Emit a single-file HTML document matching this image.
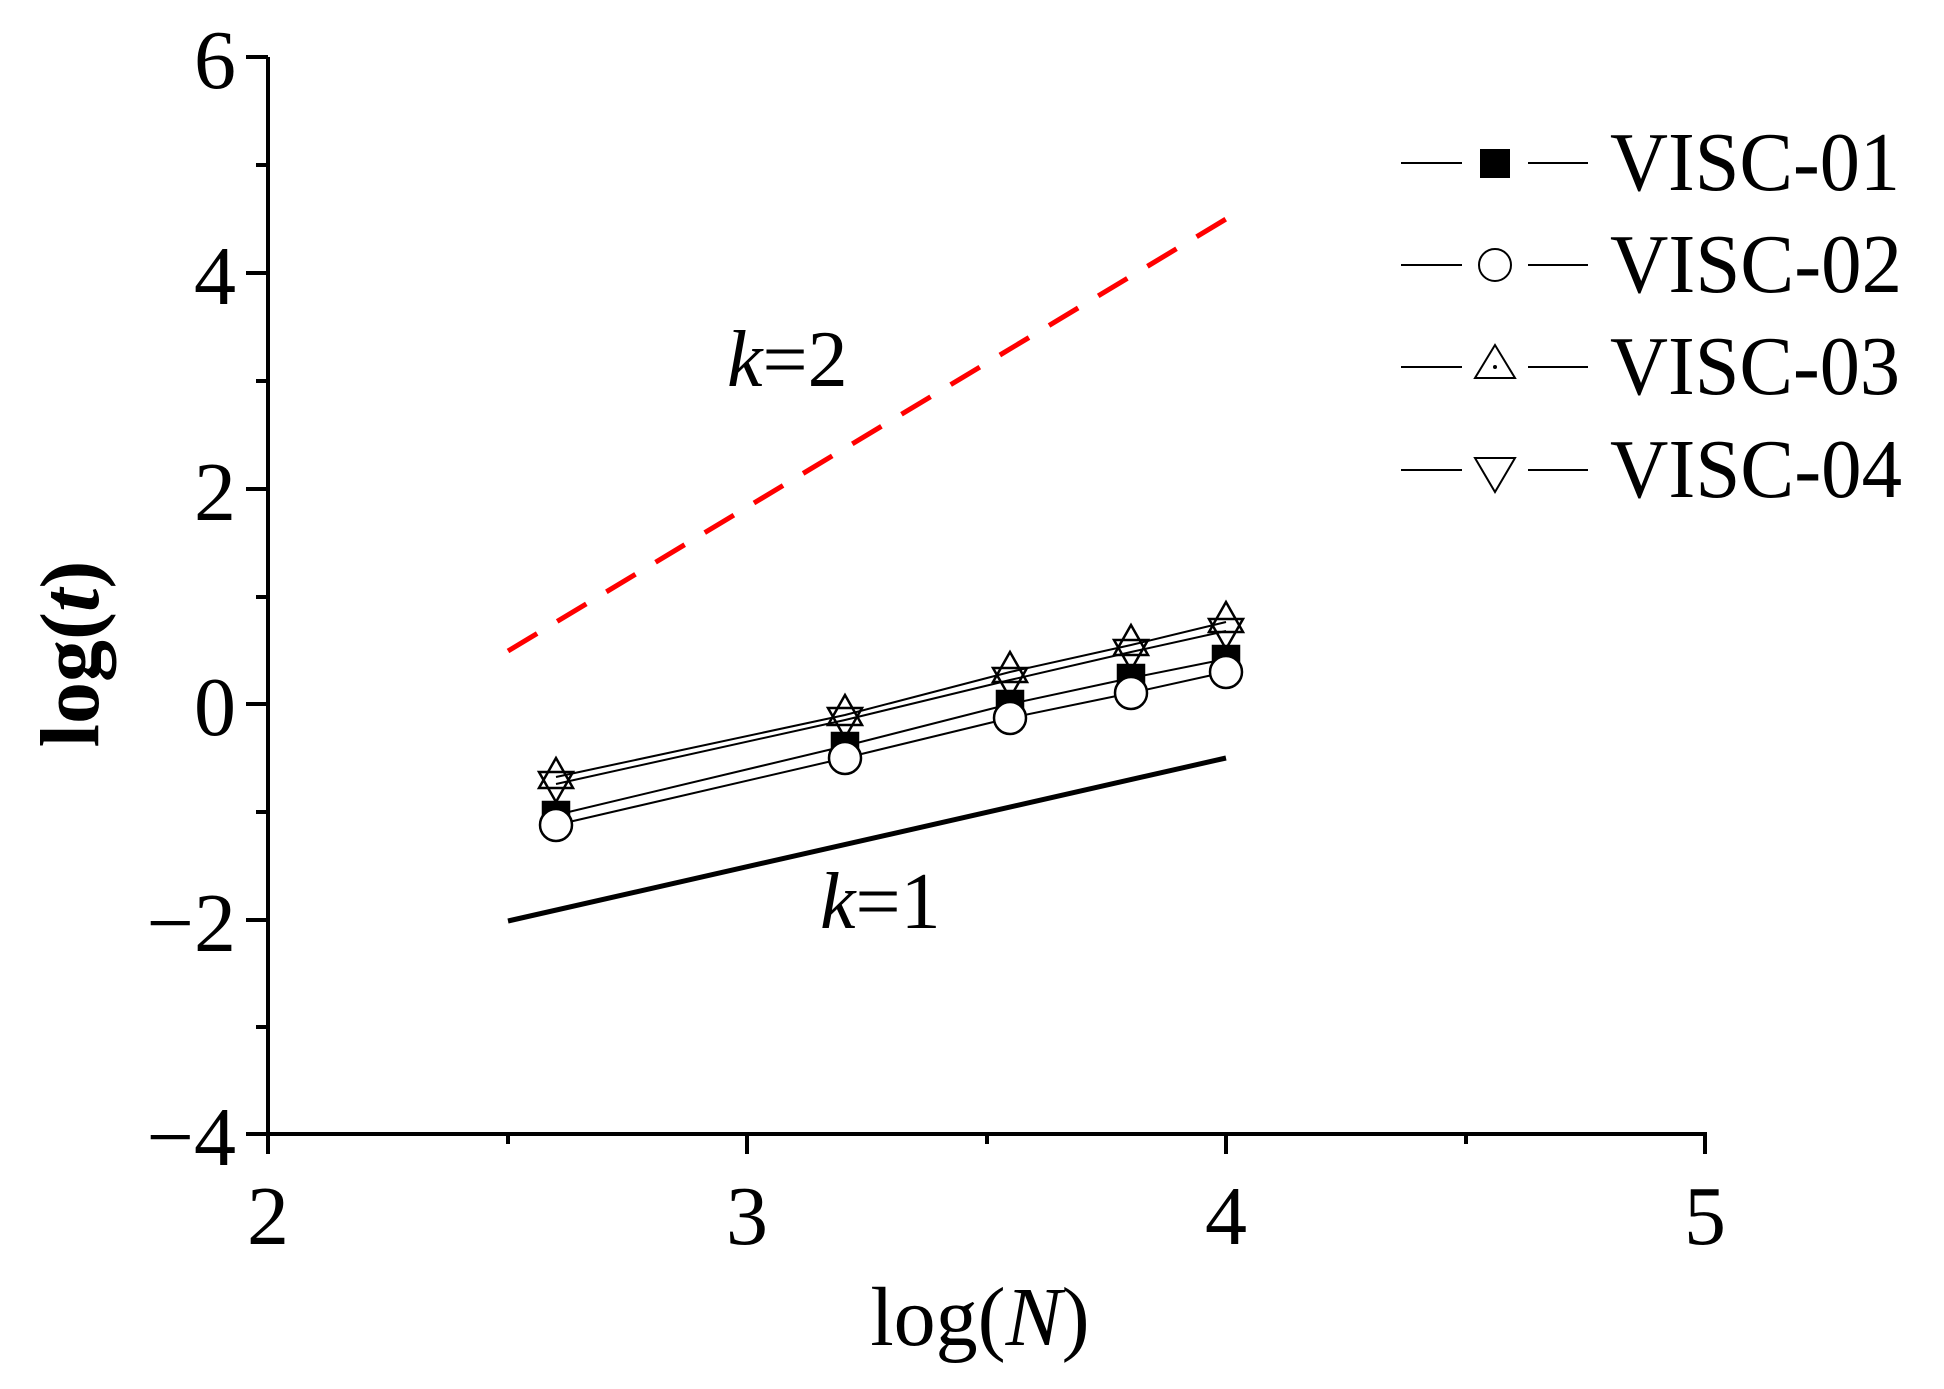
<!DOCTYPE html>
<html><head><meta charset="utf-8"><style>html,body{margin:0;padding:0;background:#fff}svg{display:block}</style></head>
<body>
<svg width="1944" height="1389" viewBox="0 0 1944 1389" xmlns="http://www.w3.org/2000/svg" font-family="Liberation Serif, serif">
<rect width="1944" height="1389" fill="#fff"/>
<g stroke="#000" stroke-width="4" fill="none">
<line x1="268" y1="57" x2="268" y2="1134"/>
<line x1="266" y1="1134" x2="1707" y2="1134"/>
<line x1="246" y1="57" x2="268" y2="57"/>
<line x1="246" y1="273" x2="268" y2="273"/>
<line x1="246" y1="489" x2="268" y2="489"/>
<line x1="246" y1="704" x2="268" y2="704"/>
<line x1="246" y1="920" x2="268" y2="920"/>
<line x1="246" y1="1134" x2="268" y2="1134"/>
<line x1="256" y1="165" x2="268" y2="165"/>
<line x1="256" y1="381" x2="268" y2="381"/>
<line x1="256" y1="597" x2="268" y2="597"/>
<line x1="256" y1="812" x2="268" y2="812"/>
<line x1="256" y1="1027" x2="268" y2="1027"/>
<line x1="268" y1="1134" x2="268" y2="1154"/>
<line x1="747" y1="1134" x2="747" y2="1154"/>
<line x1="1226" y1="1134" x2="1226" y2="1154"/>
<line x1="1705" y1="1134" x2="1705" y2="1154"/>
<line x1="508" y1="1134" x2="508" y2="1144"/>
<line x1="987" y1="1134" x2="987" y2="1144"/>
<line x1="1466" y1="1134" x2="1466" y2="1144"/>
</g>
<g font-size="84" fill="#000">
<g text-anchor="end">
<text x="236" y="88">6</text>
<text x="236" y="304">4</text>
<text x="236" y="520">2</text>
<text x="236" y="735">0</text>
<text x="236" y="951">−2</text>
<text x="236" y="1165">−4</text>
</g>
<g text-anchor="middle">
<text x="268" y="1244">2</text>
<text x="747" y="1244">3</text>
<text x="1226" y="1244">4</text>
<text x="1705" y="1244">5</text>
</g>
</g>
<text x="980" y="1345" font-size="84" text-anchor="middle">log(<tspan font-style="italic">N</tspan>)</text>
<text transform="translate(98,654) rotate(-90)" font-size="84" font-weight="bold" text-anchor="middle">log(<tspan font-style="italic">t</tspan>)</text>
<line x1="508" y1="921" x2="1226" y2="758" stroke="#000" stroke-width="5"/>
<line x1="508" y1="651" x2="1226" y2="219" stroke="#f00" stroke-width="5" stroke-dasharray="34,23.4"/>
<text x="727" y="386" font-size="80"><tspan font-style="italic">k</tspan>=2</text>
<text x="820" y="928" font-size="80"><tspan font-style="italic">k</tspan>=1</text>
<g stroke="#000" stroke-width="2" fill="none">
<polyline points="556,815 845,746 1010,704 1131,678 1226,659"/>
<polyline points="556,825 845,758 1010,718 1131,693 1226,672"/>
<polyline points="556,777 845,715 1010,672 1131,645 1226,622"/>
<polyline points="556,784 845,720 1010,680 1131,652 1226,631"/>
</g>
<g stroke="#000" stroke-width="2.5">
<g fill="#000">
<rect x="543" y="802" width="26" height="26"/>
<rect x="832" y="733" width="26" height="26"/>
<rect x="997" y="691" width="26" height="26"/>
<rect x="1118" y="665" width="26" height="26"/>
<rect x="1213" y="646" width="26" height="26"/>
</g>
<g fill="#fff">
<circle cx="556" cy="825" r="16"/>
<circle cx="845" cy="758" r="16"/>
<circle cx="1010" cy="718" r="16"/>
<circle cx="1131" cy="693" r="16"/>
<circle cx="1226" cy="672" r="16"/>
</g>
<g fill="none">
<polygon points="556,758 539,788 573,788"/>
<polygon points="845,695 828,725 862,725"/>
<polygon points="1010,652 993,682 1027,682"/>
<polygon points="1131,625 1114,655 1148,655"/>
<polygon points="1226,602 1209,632 1243,632"/>
<polygon points="539,772 573,772 556,802"/>
<polygon points="828,708 862,708 845,738"/>
<polygon points="993,668 1027,668 1010,698"/>
<polygon points="1114,640 1148,640 1131,670"/>
<polygon points="1209,619 1243,619 1226,649"/>
</g>
</g>
<g stroke="#000" stroke-width="2">
<line x1="1401" y1="163" x2="1462" y2="163"/><line x1="1528" y1="163" x2="1588" y2="163"/>
<line x1="1401" y1="265" x2="1462" y2="265"/><line x1="1528" y1="265" x2="1588" y2="265"/>
<line x1="1401" y1="367" x2="1462" y2="367"/><line x1="1528" y1="367" x2="1588" y2="367"/>
<line x1="1401" y1="470" x2="1462" y2="470"/><line x1="1528" y1="470" x2="1588" y2="470"/>
<rect x="1480" y="149" width="30" height="29" fill="#000" stroke="none"/>
<circle cx="1495" cy="265" r="16" fill="#fff"/>
<polygon points="1495,345 1475,378 1515,378" fill="#fff"/>
<polygon points="1475,458 1515,458 1495,492" fill="#fff"/>
</g>
<circle cx="1495" cy="367" r="2" fill="#000"/>
<g font-size="84" fill="#000">
<text x="1610" y="190" textLength="290" lengthAdjust="spacingAndGlyphs">VISC-01</text>
<text x="1610" y="292" textLength="292" lengthAdjust="spacingAndGlyphs">VISC-02</text>
<text x="1610" y="394" textLength="290" lengthAdjust="spacingAndGlyphs">VISC-03</text>
<text x="1610" y="497" textLength="292" lengthAdjust="spacingAndGlyphs">VISC-04</text>
</g>
</svg>
</body></html>
